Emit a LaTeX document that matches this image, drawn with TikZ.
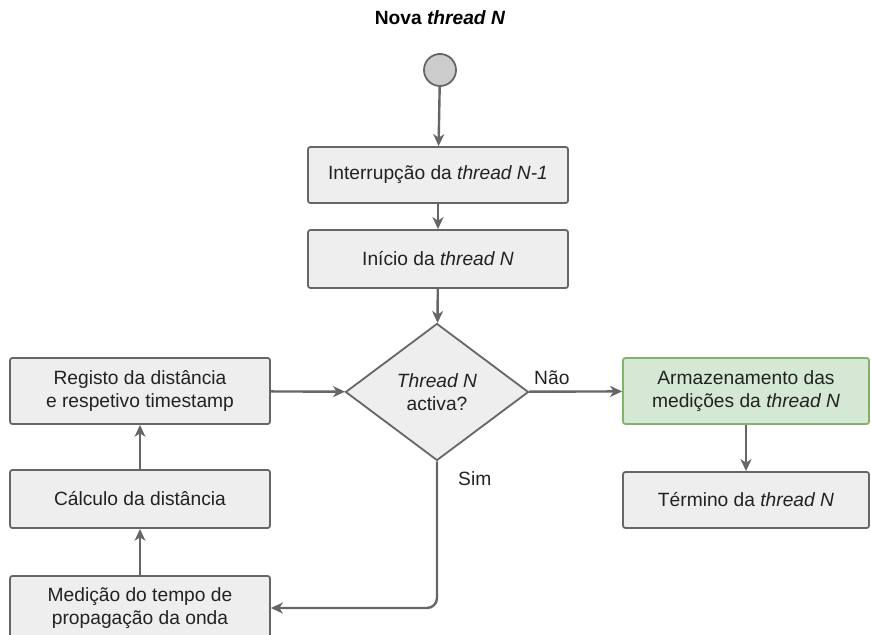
\documentclass[tikz,border=0pt]{standalone}
\usepackage{fontspec}
\setmainfont{Liberation Sans}
\usetikzlibrary{arrows.meta,shapes.geometric,positioning}
\definecolor{boxfill}{HTML}{EEEEEE}
\definecolor{boxline}{HTML}{666666}
\definecolor{txt}{HTML}{222222}
\definecolor{okfill}{HTML}{D5E8D4}
\definecolor{okline}{HTML}{82B366}
\tikzset{
  flow/.style={-{Stealth[length=6pt, width=5.5pt, inset=1.8pt]}, line width=1.2pt, boxline},
  stepbox/.style={rectangle, rounded corners=1.2pt, draw=boxline, fill=boxfill, line width=0.9pt,
    minimum width=130pt, minimum height=28pt, inner sep=0pt, align=center, text=txt,
    font=\fontsize{9.6}{11.2}\selectfont},
  okbox/.style={stepbox, draw=okline, fill=okfill},
  decision/.style={diamond, draw=boxline, fill=boxfill, line width=0.9pt, shape aspect=1.34,
    minimum width=91.5pt, minimum height=68.5pt, inner sep=0pt, align=center, text=txt,
    font=\fontsize{9.6}{11.2}\selectfont},
  startdot/.style={circle, draw=boxline, fill=black!20, line width=0.9pt,
    minimum size=16pt, inner sep=0pt},
  lbl/.style={text=txt, inner sep=1pt, font=\fontsize{9.6}{11.2}\selectfont},
}

\begin{document}
\begin{tikzpicture}[x=0.5pt, y=-0.5pt]

  \useasboundingbox (0,0) rectangle (871,635);
  \clip (0,0) rectangle (871,635);

  % Start
  \node[lbl, font=\bfseries\fontsize{9.6}{11.2}\selectfont, text=black] (title) at (440,18) {Nova \textit{thread N}};
  \node[startdot] (start) at (440,70) {};

  % Main column
  \node[stepbox] (interr) at (438,175) {Interrupção da \textit{thread N-1}};
  \node[stepbox, minimum height=29pt] (inicio) at (438,259) {Início da \textit{thread N}};
  \node[decision] (activa) at (437,392) {\textit{Thread N}\\activa?};

  % Left column
  \node[stepbox, minimum height=33pt] (registo) at (140,391) {Registo da distância\\e respetivo timestamp};
  \node[stepbox, minimum height=29pt] (calculo) at (140,499) {Cálculo da distância};
  \node[stepbox, minimum height=32pt] (medicao) at (140,608) {Medição do tempo de\\propagação da onda};

  % Right column
  \node[okbox, minimum width=123pt, minimum height=33pt] (armaz) at (746,391) {Armazenamento das\\medições da \textit{thread N}};
  \node[stepbox, minimum width=123pt] (termino) at (746,500) {Término da \textit{thread N}};

  % Connectors
  \draw[flow] (start) -- (interr);
  \draw[flow] (interr) -- (inicio);
  \draw[flow] (inicio) -- (activa);
  \draw[flow] (registo) -- (activa);
  \draw[flow] (activa) -- node[lbl, pos=0, anchor=south west, xshift=1pt, yshift=2pt] {Não} (armaz);
  \draw[flow] (armaz) -- (termino);
  \draw[flow, rounded corners=5pt] (activa.south) |- node[lbl, pos=0, anchor=north west, xshift=9pt, yshift=-3.5pt] {Sim} (medicao.east);
  \draw[flow] (medicao) -- (calculo);
  \draw[flow] (calculo) -- (registo);

\end{tikzpicture}
\end{document}
